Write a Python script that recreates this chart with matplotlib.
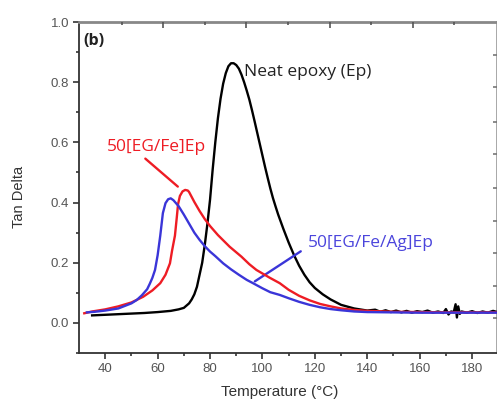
import matplotlib
matplotlib.use("Agg")
import matplotlib.pyplot as plt

# ---------------- data ----------------
ep_T = [35, 40, 45, 50, 55, 60, 65, 68, 70, 72, 73, 74, 75, 76, 77, 78, 79, 80,
        81, 82, 83, 84, 85, 86, 87, 88, 89, 90, 91, 92, 93, 94, 95, 96, 97, 98,
        99, 100, 101, 102, 103, 104, 105, 106, 108, 110, 112, 114, 116, 118, 120,
        123, 126, 130, 135, 140, 143, 145, 147, 149, 151, 153, 155, 157, 159,
        161, 163, 165, 167, 169, 170, 171, 172, 173, 173.7, 174.2, 174.7, 175.3,
        176, 178, 180, 182, 184, 186, 188, 190]
ep_y = [0.025, 0.027, 0.029, 0.031, 0.033, 0.036, 0.040, 0.045, 0.050, 0.065,
        0.078, 0.095, 0.120, 0.160, 0.200, 0.260, 0.330, 0.410, 0.510, 0.600,
        0.680, 0.745, 0.795, 0.830, 0.853, 0.863, 0.863, 0.857, 0.845, 0.825,
        0.800, 0.772, 0.742, 0.707, 0.670, 0.632, 0.594, 0.556, 0.518, 0.482,
        0.447, 0.415, 0.387, 0.360, 0.312, 0.267, 0.226, 0.190, 0.160, 0.135,
        0.116, 0.095, 0.078, 0.060, 0.048, 0.041, 0.044, 0.037, 0.042, 0.036,
        0.041, 0.035, 0.040, 0.034, 0.039, 0.036, 0.041, 0.034, 0.038, 0.033,
        0.046, 0.028, 0.038, 0.036, 0.062, 0.018, 0.055, 0.030, 0.038, 0.034,
        0.039, 0.033, 0.038, 0.034, 0.040, 0.035]

fe_T = [32, 35, 40, 45, 50, 54.5, 58, 61, 63, 64.7, 65.5, 66.6, 67.3, 67.8,
        68.5, 69.5, 70.5, 71.5, 72, 74, 76, 78, 80, 83, 87.5, 92, 95, 97.7,
        102.8, 106.6, 110, 114, 118, 122, 126, 130, 135, 140, 150, 160, 170,
        180, 190]
fe_y = [0.032, 0.038, 0.045, 0.055, 0.068, 0.087, 0.108, 0.132, 0.160, 0.198,
        0.240, 0.290, 0.350, 0.395, 0.422, 0.437, 0.442, 0.440, 0.435, 0.402,
        0.372, 0.345, 0.322, 0.292, 0.253, 0.220, 0.195, 0.176, 0.150, 0.132,
        0.110, 0.090, 0.075, 0.063, 0.055, 0.048, 0.043, 0.040, 0.037, 0.036,
        0.035, 0.035, 0.035]

ag_T = [33, 36, 40, 45, 50, 52, 54, 56, 57, 58, 59, 60, 61, 62, 63, 64, 65, 66,
        68, 70, 72, 74, 76, 78, 80, 82, 85, 88, 91, 94, 96.4, 100, 103, 106.6,
        110, 114, 118, 122, 126, 130, 135, 140, 150, 160, 170, 180, 190]
ag_y = [0.035, 0.037, 0.041, 0.048, 0.065, 0.076, 0.092, 0.112, 0.130, 0.150,
        0.176, 0.225, 0.290, 0.365, 0.398, 0.411, 0.414, 0.408, 0.388, 0.360,
        0.330, 0.300, 0.276, 0.255, 0.237, 0.222, 0.198, 0.178, 0.160, 0.143,
        0.132, 0.115, 0.102, 0.093, 0.082, 0.070, 0.060, 0.052, 0.046, 0.042,
        0.038, 0.036, 0.035, 0.034, 0.034, 0.034, 0.034]

x_major = [40, 60, 80, 100, 120, 140, 160, 180]
x_minor = [50, 70, 90, 110, 130, 150, 170]
y_major = [0.0, 0.2, 0.4, 0.6, 0.8, 1.0]
y_minor = [-0.1, 0.1, 0.3, 0.5, 0.7, 0.9]
top_major = [62.1, 93.9, 125.6, 157.4]
top_minor = [46.3, 78.0, 109.8, 141.5, 173.2]
right_ticks = [0.017, 0.123, 0.233, 0.339, 0.448, 0.561, 0.668, 0.784, 0.890]

# ---------------- figure ----------------
plt.rcParams['font.family'] = ['Liberation Sans', 'DejaVu Sans']
fig = plt.figure(figsize=(4.97, 4.01), dpi=100)
ax = fig.add_axes([0.159, 0.1197, 0.841, 0.8254])

ax.plot(ep_T, ep_y, color='black', lw=1.7, zorder=3)
ax.plot(fe_T, fe_y, color='#ee1c24', lw=1.7, zorder=4)
ax.plot(ag_T, ag_y, color='#3a35d8', lw=1.7, zorder=5)

ax.set_xlim(30, 189.5)
ax.set_ylim(-0.1, 1.0)

ax.set_xticks(x_major)
ax.set_xticks(x_minor, minor=True)
ax.set_yticks(y_major)
ax.set_yticks(y_minor, minor=True)
ax.set_yticklabels(['%.1f' % v for v in y_major])

tick_col = '#555555'
ax.tick_params(axis='both', which='major', direction='out', length=4,
               width=1.2, color='#333333', labelsize=9.5, labelcolor=tick_col,
               pad=3)
ax.tick_params(axis='both', which='minor', direction='out', length=2.5,
               width=1.2, color='#333333')

for s in ['left', 'bottom']:
    ax.spines[s].set_color('#333333')
    ax.spines[s].set_linewidth(1.3)
ax.spines['top'].set_color('#888888')
ax.spines['top'].set_linewidth(2.0)
ax.spines['right'].set_color('#999999')
ax.spines['right'].set_linewidth(1.2)

# mirrored ticks on top and right
axt = ax.twiny()
axt.set_xlim(ax.get_xlim())
axt.set_xticks(top_major)
axt.set_xticks(top_minor, minor=True)
axt.tick_params(axis='x', which='major', direction='in', length=4, width=1.2,
                color='#555555', labeltop=False)
axt.tick_params(axis='x', which='minor', direction='in', length=2.5, width=1.2,
                color='#555555')
for s in axt.spines.values():
    s.set_visible(False)

axr = ax.twinx()
axr.set_ylim(ax.get_ylim())
axr.set_yticks(right_ticks)
axr.tick_params(axis='y', direction='in', length=3, width=1.2,
                color='#777777', labelright=False)
for s in axr.spines.values():
    s.set_visible(False)

ax.set_xlabel('Temperature (\u00b0C)', fontsize=11, color='#333333',
              va='baseline')
ax.xaxis.set_label_coords(0.481, -0.131)
ax.set_ylabel('Tan Delta', fontsize=10.5, color='#333333')
ax.yaxis.set_label_coords(-0.127, 0.47)

ann = ['Open Sans', 'DejaVu Sans']
ax.text(31.8, 0.937, '(b)', fontsize=11.5, fontweight='bold', color='#222222',
        family=ann, va='center', ha='left')
ax.text(93.0, 0.834, 'Neat epoxy (Ep)', fontsize=12.5, color='#222222',
        family=ann, va='center', ha='left')
ax.text(40.8, 0.585, '50[EG/Fe]Ep', fontsize=12.5, color='#ee1c24',
        family=ann, va='center', ha='left')
ax.text(117.5, 0.266, '50[EG/Fe/Ag]Ep', fontsize=12.5, color='#4b45dc',
        family=ann, va='center', ha='left')

# pointer lines
ax.annotate('', xy=(68.5, 0.447), xytext=(54.5, 0.552),
            arrowprops=dict(arrowstyle='-', color='#ee1c24', lw=1.7))
ax.annotate('', xy=(96.2, 0.133), xytext=(115.5, 0.243),
            arrowprops=dict(arrowstyle='-', color='#3a35d8', lw=1.7))

fig.savefig('out.png', dpi=100, facecolor='white')
